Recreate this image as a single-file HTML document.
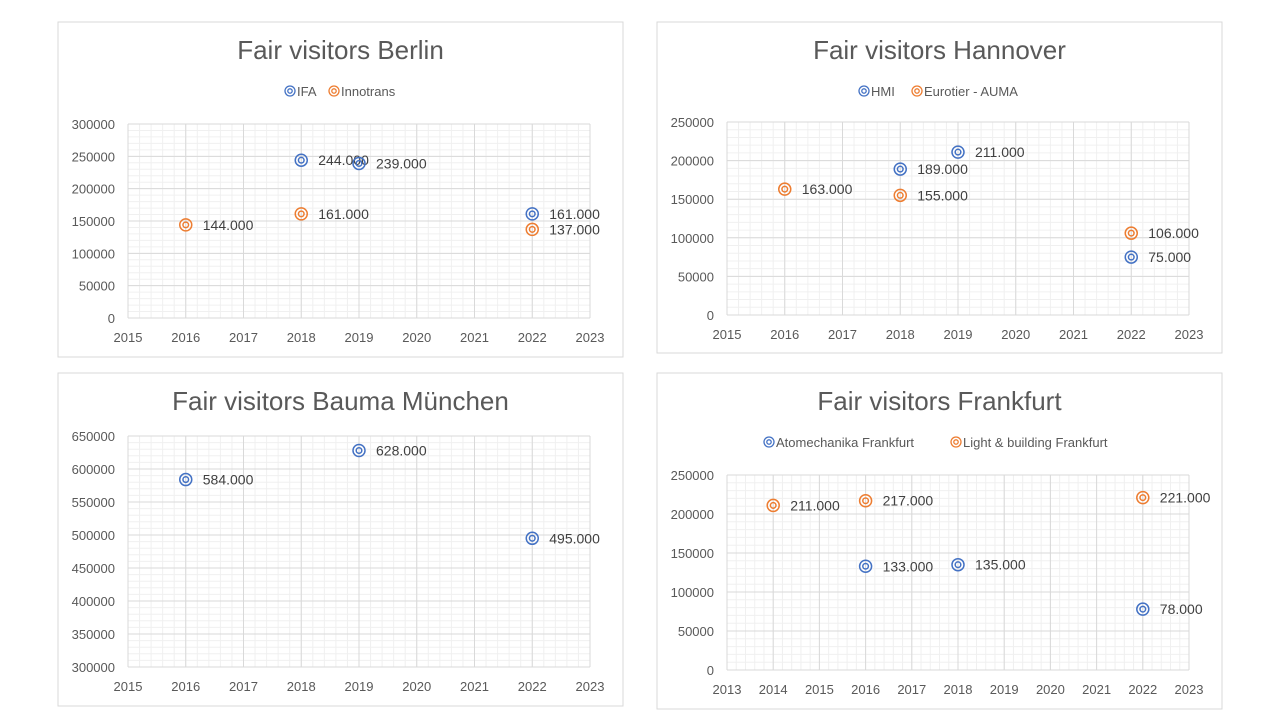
<!DOCTYPE html>
<html><head><meta charset="utf-8"><style>
body{margin:0;background:#fff;width:1280px;height:720px;overflow:hidden;font-family:"Liberation Sans",sans-serif}
svg{position:absolute;left:0;top:0}
</style></head><body>
<svg id="s" width="1280" height="720"></svg>
<script>
const berlinYears=[2018,2019,2022], berlinIFA=[244000,239000,161000];
const berlinInnoYears=[2016,2018,2022], berlinInno=[144000,161000,137000];
const hanHMIYears=[2018,2019,2022], hanHMI=[189000,211000,75000];
const hanEuroYears=[2016,2018,2022], hanEuro=[163000,155000,106000];
const baumaYears=[2016,2019,2022], bauma=[584000,628000,495000];
const atomYears=[2016,2018,2022], atom=[133000,135000,78000];
const lightYears=[2014,2016,2022], light=[211000,217000,221000];
const BLUE='#4472C4', ORANGE='#ED7D31';
const NS='http://www.w3.org/2000/svg', S=document.getElementById('s');
function el(t,a,p){const e=document.createElementNS(NS,t);for(const k in a)e.setAttribute(k,a[k]);(p||S).appendChild(e);return e;}
function chart(c){
  const g=el('g',{});
  
  
  const fr=el('rect',{x:c.fx,y:c.fy,width:c.fw,height:c.fh,fill:'#fff',stroke:'#d9d9d9','stroke-width':1},g);
  
  
  const t=el('text',{x:c.fx+c.fw/2,y:c.fy+37,'text-anchor':'middle','font-size':26,fill:'#595959'},g);
  t.textContent=c.title;
  
  
  const X=v=>c.x0+(v-c.xmin)/(c.xmax-c.xmin)*(c.x1-c.x0);
  const Y=v=>c.y0-(v-c.ymin)/(c.ymax-c.ymin)*(c.y0-c.y1);
  // minor grid
  for(let v=c.xmin;v<=c.xmax+1e-9;v+=c.xstep/5){el('line',{x1:X(v),x2:X(v),y1:c.y1,y2:c.y0,stroke:'#f0f0f0'},g);}
  for(let v=c.ymin;v<=c.ymax+1e-9;v+=c.ystep/5){el('line',{x1:c.x0,x2:c.x1,y1:Y(v),y2:Y(v),stroke:'#f0f0f0'},g);}
  for(let v=c.xmin;v<=c.xmax+1e-9;v+=c.xstep){el('line',{x1:X(v),x2:X(v),y1:c.y1,y2:c.y0,stroke:'#d9d9d9'},g);
    const tl=el('text',{x:X(v),y:c.y0+24,'text-anchor':'middle','font-size':13,fill:'#595959'},g);tl.textContent=v;
    }
  for(let v=c.ymin;v<=c.ymax+1e-9;v+=c.ystep){el('line',{x1:c.x0,x2:c.x1,y1:Y(v),y2:Y(v),stroke:'#d9d9d9'},g);
    const tl=el('text',{x:c.x0-13,y:Y(v)+5,'text-anchor':'end','font-size':13,fill:'#595959'},g);tl.textContent=v;
    }
  c.series.forEach(s=>{
    s.xs.forEach((x,i)=>{
      const cx=X(x),cy=Y(s.ys[i]);
      const m=el('g',{},g);
      
      
      el('circle',{cx:cx,cy:cy,r:6,fill:'none',stroke:s.color,'stroke-width':1.5},m);
      el('circle',{cx:cx,cy:cy,r:2.8,fill:'none',stroke:s.color,'stroke-width':1.5},m);
      const lb=el('text',{x:cx+17,y:cy+5,'font-size':14,fill:'#404040'},g);
      lb.textContent=(s.ys[i]/1000).toFixed(3);
      
      
    });
  });
  if(c.legend){
    c.legend.forEach(l=>{
      const lg=el('g',{},g);
      
      
      el('circle',{cx:l.x,cy:c.ly,r:5,fill:'none',stroke:l.color,'stroke-width':1.3},lg);
      el('circle',{cx:l.x,cy:c.ly,r:2.2,fill:'none',stroke:l.color,'stroke-width':1.3},lg);
      const tx=el('text',{x:l.x+7,y:c.ly+5,'font-size':13,fill:'#595959'},lg);tx.textContent=l.text;
    });
  }
}
chart({name:'chart-berlin',title:'Fair visitors Berlin',fx:58,fy:22,fw:565,fh:335,x0:128,x1:590,xmin:2015,xmax:2023,xstep:1,y0:318,y1:124,ymin:0,ymax:300000,ystep:50000,
  ly:91,legend:[{x:290,color:BLUE,text:'IFA'},{x:334,color:ORANGE,text:'Innotrans'}],
  series:[{key:'ifa',color:BLUE,xs:berlinYears,ys:berlinIFA},{key:'innotrans',color:ORANGE,xs:berlinInnoYears,ys:berlinInno}]});
chart({name:'chart-hannover',title:'Fair visitors Hannover',fx:657,fy:22,fw:565,fh:331,x0:727,x1:1189,xmin:2015,xmax:2023,xstep:1,y0:315,y1:122,ymin:0,ymax:250000,ystep:50000,
  ly:91,legend:[{x:864,color:BLUE,text:'HMI'},{x:917,color:ORANGE,text:'Eurotier - AUMA'}],
  series:[{key:'hmi',color:BLUE,xs:hanHMIYears,ys:hanHMI},{key:'eurotier',color:ORANGE,xs:hanEuroYears,ys:hanEuro}]});
chart({name:'chart-bauma',title:'Fair visitors Bauma München',fx:58,fy:373,fw:565,fh:333,x0:128,x1:590,xmin:2015,xmax:2023,xstep:1,y0:667,y1:436,ymin:300000,ymax:650000,ystep:50000,
  series:[{key:'bauma',color:BLUE,xs:baumaYears,ys:bauma}]});
chart({name:'chart-frankfurt',title:'Fair visitors Frankfurt',fx:657,fy:373,fw:565,fh:336,x0:727,x1:1189,xmin:2013,xmax:2023,xstep:1,y0:670,y1:475,ymin:0,ymax:250000,ystep:50000,
  ly:442,legend:[{x:769,color:BLUE,text:'Atomechanika Frankfurt'},{x:956,color:ORANGE,text:'Light & building Frankfurt'}],
  series:[{key:'atomechanika',color:BLUE,xs:atomYears,ys:atom},{key:'light-building',color:ORANGE,xs:lightYears,ys:light}]});
</script>
</body></html>
